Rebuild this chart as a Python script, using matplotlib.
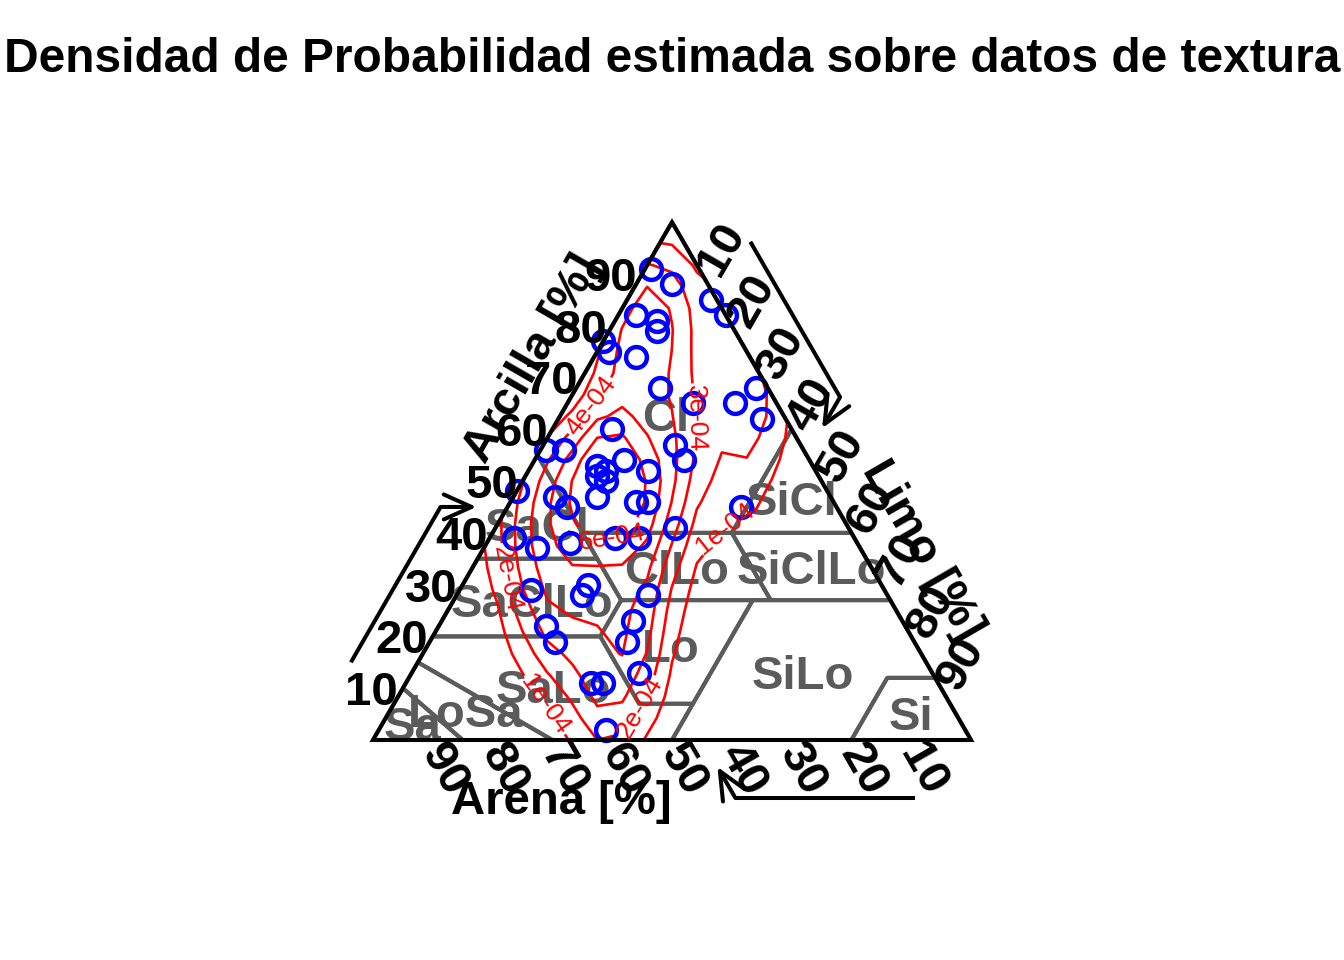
import numpy as np
import matplotlib
matplotlib.use("Agg")
import matplotlib.pyplot as plt
from matplotlib.patches import Polygon

plt.rcParams["font.family"] = ["Liberation Sans", "DejaVu Sans"]

TITLE = "Densidad de Probabilidad estimada sobre datos de textura"

# soil samples (percent); sand is the remainder
clay = [91, 88, 85, 82, 82, 81, 79, 77, 75, 74, 68, 65, 68, 65, 62, 60, 56, 56,
        57, 54, 53, 52, 51, 50, 54, 52, 47, 46, 46, 48, 47, 45, 39, 37, 38, 39,
        39, 41, 45, 29, 30, 28, 28, 22, 19, 23, 19, 13, 11, 11, 2]
silt = [1, 6, 14, 18, 3, 7, 8, 0, 2, 7, 14, 21, 30, 28, 34, 10, 1, 4,
        22, 25, 11, 13, 12, 14, 15, 20, 14, 21, 23, 0, 7, 10, 4, 9, 14, 21,
        25, 30, 39, 12, 21, 21, 32, 18, 21, 32, 33, 38, 31, 33, 38]

density_levels = [1e-4, 2e-4, 3e-4, 4e-4, 5e-4, 6e-4]
# where the contour labels sit, as (clay, silt)
label_spots = [(64, 5), (38, 21), (31, 6), (8, 26), (7, 40), (40, 39), (62, 23)]

# USDA classes, vertices as (clay, silt)
classes = {
    "Cl":     [(100, 0), (55, 0), (40, 15), (40, 40), (60, 40)],
    "SiCl":   [(60, 40), (40, 40), (40, 60)],
    "SaCl":   [(55, 0), (35, 0), (35, 20)],
    "SiClLo": [(40, 40), (27, 53), (27, 73), (40, 60)],
    "ClLo":   [(40, 15), (27, 28), (27, 53), (40, 40)],
    "SaClLo": [(35, 0), (20, 0), (20, 28), (27, 28), (35, 20)],
    "Lo":     [(27, 28), (20, 28), (7, 41), (7, 50), (27, 50)],
    "SiLo":   [(27, 50), (0, 50), (0, 80), (12, 80), (12, 88), (27, 73)],
    "Si":     [(12, 80), (0, 80), (0, 100), (12, 88)],
    "SaLo":   [(20, 0), (15, 0), (0, 30), (0, 50), (7, 50), (7, 41), (20, 28)],
    "LoSa":   [(15, 0), (10, 0), (0, 15), (0, 30)],
    "Sa":     [(10, 0), (0, 0), (0, 15)],
}

ticks = [10, 20, 30, 40, 50, 60, 70, 80, 90]
axis_titles = {"clay": "Arcilla [%]", "silt": "Limo [%]", "sand": "Arena [%]"}

R3 = np.sqrt(3) / 2


def tern(c, s):
    c = np.asarray(c, float)
    s = np.asarray(s, float)
    return s + c / 2, c * R3


# edge point and outward grid direction for each axis
def edge(axis, v):
    if axis == "clay":
        return np.array(tern(v, 0)), np.array([-1.0, 0.0])
    if axis == "silt":
        return np.array(tern(100 - v, v)), np.array([0.5, R3])
    return np.array(tern(0, 100 - v)), np.array([0.5, -R3])


rot_tick = {"clay": 0, "silt": 60, "sand": -60}
rot_title = {"clay": 60, "silt": -60, "sand": 0}

# figure: 1 data unit (percent) = 5.98 px, bottom-left vertex at px (373, 740)
PX = 5.98
X0, Y0 = 373, 740
fig = plt.figure(figsize=(13.44, 9.6), dpi=100)
ax = fig.add_axes([0, 0, 1, 1])
ax.set_xlim(-X0 / PX, (1344 - X0) / PX)
ax.set_ylim(-(960 - Y0) / PX, Y0 / PX)
ax.axis("off")

corners = [tern(0, 0), tern(0, 100), tern(100, 0)]
tri = Polygon(corners, closed=True, fill=False, edgecolor="black", lw=2.9,
              zorder=5, joinstyle="miter")
ax.add_patch(tri)
clip = Polygon(corners, closed=True, transform=ax.transData, visible=False)
ax.add_patch(clip)

# class boundaries and labels at polygon centroids
grey = "#5b5b5b"
for name, verts in classes.items():
    cc = [v[0] for v in verts] + [verts[0][0]]
    ss = [v[1] for v in verts] + [verts[0][1]]
    x, y = tern(cc, ss)
    ax.plot(x, y, color=grey, lw=2.9, zorder=1, solid_capstyle="butt")
    a = x[:-1] * y[1:] - x[1:] * y[:-1]
    A = a.sum() / 2
    cx = ((x[:-1] + x[1:]) * a).sum() / (6 * A)
    cy = ((y[:-1] + y[1:]) * a).sum() / (6 * A)
    ax.text(cx, cy, name, color=grey, fontsize=34, fontweight="bold",
            ha="center", va="center_baseline", zorder=2)

# 2d kernel density, kde2d style: coarse 25x25 grid over the triangle frame
px_, py_ = tern(clay, silt)
n = len(px_)


def bw(v):
    q1, q3 = np.percentile(v, [25, 75])
    return 1.06 * min(np.std(v, ddof=1), (q3 - q1) / 1.34) * n ** (-0.2)


hx, hy = bw(px_), bw(py_)
gx = np.linspace(0, 100, 25)
gy = np.linspace(0, 100 * R3, 25)
GX, GY = np.meshgrid(gx, gy)
Z = np.zeros_like(GX)
for a_, b_ in zip(px_, py_):
    Z += np.exp(-0.5 * ((GX - a_) / hx) ** 2 - 0.5 * ((GY - b_) / hy) ** 2)
Z /= n * 2 * np.pi * hx * hy

cs = ax.contour(GX, GY, Z, levels=density_levels, colors="red",
                linewidths=1.9, zorder=3)
cs.set_clip_path(clip)
spots = [tern(c, s) for c, s in label_spots]
ax.clabel(cs, fmt=lambda v: f"{v:.0e}", fontsize=19, inline=True,
          inline_spacing=2, manual=spots)

ax.plot(px_, py_, "o", ms=15, mfc="none", mec="blue", mew=3.2, zorder=4)

# ticks, titles, arrows
for axis in ("clay", "silt", "sand"):
    for t in ticks:
        p, d = edge(axis, t)
        q = p + 5.2 * d
        ax.text(q[0], q[1], str(t), fontsize=34, fontweight="bold",
                rotation=rot_tick[axis], ha="center", va="center_baseline",
                rotation_mode="anchor", zorder=6)
    p, d = edge(axis, 74)
    q = p + 11.0 * d
    ax.text(q[0], q[1], axis_titles[axis], fontsize=34, fontweight="bold",
            rotation=rot_title[axis], ha="center", va="center_baseline",
            rotation_mode="anchor", zorder=6)
    p1, d = edge(axis, 15)
    p2, _ = edge(axis, 45)
    a1 = p1 + 11.2 * d
    a2 = p2 + 11.2 * d
    tip = p2 + 5.2 * d
    ax.plot([a1[0], a2[0]], [a1[1], a2[1]], color="black", lw=2.9,
            solid_capstyle="butt", zorder=6)
    ax.annotate("", xy=tip, xytext=a2,
                arrowprops=dict(arrowstyle="->,head_length=1.0,head_width=0.45",
                                lw=2.9, color="black", mutation_scale=20,
                                shrinkA=0, shrinkB=0), zorder=6)

fig.text(0.5, 1 - 60 / 960, TITLE, fontsize=34.5, fontweight="bold",
         ha="center", va="center")

fig.savefig("out.png", dpi=100)
